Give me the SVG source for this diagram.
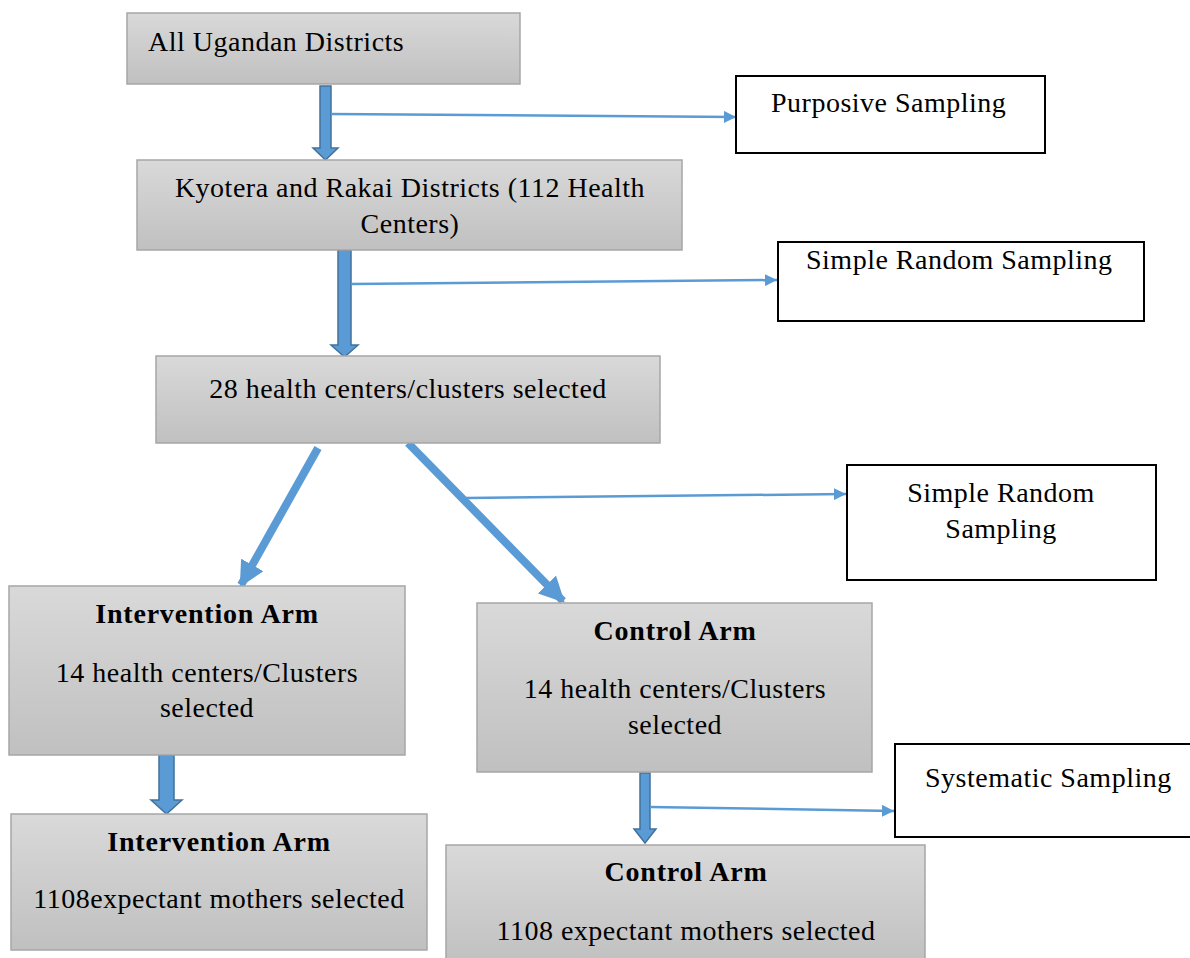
<svg xmlns="http://www.w3.org/2000/svg" width="1190" height="958" viewBox="0 0 1190 958">
<defs>
<linearGradient id="g" x1="0" y1="0" x2="0" y2="1">
<stop offset="0" stop-color="#d9d9d9"/>
<stop offset="1" stop-color="#c0c0c0"/>
</linearGradient>
<marker id="ahs" viewBox="0 0 10 10" refX="10" refY="5" markerWidth="12" markerHeight="12" markerUnits="userSpaceOnUse" orient="auto">
<path d="M0,0 L10,5 L0,10 z" fill="#5b9bd5"/>
</marker>
<marker id="ahd" viewBox="0 0 10 10" refX="9" refY="5" markerWidth="3.2" markerHeight="3.2" orient="auto">
<path d="M0,0 L10,5 L0,10 z" fill="#5b9bd5"/>
</marker>
</defs>
<style>
.gbox{fill:url(#g);stroke:#a6a6a6;stroke-width:1.5}
.wbox{fill:#fff;stroke:#000;stroke-width:2}
text{font-family:"Liberation Serif","Times New Roman",serif;font-size:28px;letter-spacing:0.5px;fill:#000}
.c{text-anchor:middle}
.b{font-weight:bold;letter-spacing:0.8px}
.blk{fill:#5b9bd5;stroke:#41719c;stroke-width:1.5}
.thin{stroke:#5b9bd5;stroke-width:2.5;fill:none}
.diag{stroke:#5b9bd5;stroke-width:8;fill:none}
</style>
<rect width="1190" height="958" fill="#fff"/>
<g id="connectors">
<path class="blk" d="M320,86 H331 V148 H338 L325.5,160 L313,148 H320 Z"/>
<line class="thin" x1="331" y1="114" x2="736" y2="117" marker-end="url(#ahs)"/>
<path class="blk" d="M338,250 H351 V345 H358 L344.5,357 L331,345 H338 Z"/>
<line class="thin" x1="351" y1="284" x2="777" y2="280" marker-end="url(#ahs)"/>
<line class="diag" x1="318" y1="448" x2="241" y2="585" marker-end="url(#ahd)"/>
<line class="diag" x1="408" y1="443" x2="563" y2="601" marker-end="url(#ahd)"/>
<line class="thin" x1="466" y1="498" x2="846" y2="494" marker-end="url(#ahs)"/>
<path class="blk" d="M159,755 H174 V800 H182 L166.5,814 L151,800 H159 Z"/>
<path class="blk" d="M640,773 H650 V829 H656 L645,843 L634,829 H640 Z"/>
<line class="thin" x1="650" y1="807" x2="894" y2="811" marker-end="url(#ahs)"/>
</g>
<g id="n1"><rect class="gbox" x="127" y="13" width="393" height="71"/><text x="148" y="51">All Ugandan Districts</text></g>
<g id="n2"><rect class="wbox" x="736" y="76" width="309" height="77"/><text x="771" y="112">Purposive Sampling</text></g>
<g id="n3"><rect class="gbox" x="137" y="160" width="545" height="90"/><text class="c" x="410" y="197">Kyotera and Rakai Districts (112 Health</text><text class="c" x="410" y="233">Centers)</text></g>
<g id="n4"><rect class="wbox" x="778" y="242" width="366" height="79"/><text x="806" y="269">Simple Random Sampling</text></g>
<g id="n5"><rect class="gbox" x="156" y="356" width="504" height="87"/><text class="c" x="408" y="398">28 health centers/clusters selected</text></g>
<g id="n6"><rect class="wbox" x="847" y="465" width="309" height="115"/><text class="c" x="1001" y="502">Simple Random</text><text class="c" x="1001" y="538">Sampling</text></g>
<g id="n7"><rect class="gbox" x="9" y="586" width="396" height="169"/><text class="c b" x="207" y="623">Intervention Arm</text><text class="c" x="207" y="682">14 health centers/Clusters</text><text class="c" x="207" y="717">selected</text></g>
<g id="n8"><rect class="gbox" x="477" y="603" width="395" height="169"/><text class="c b" x="675" y="640">Control Arm</text><text class="c" x="675" y="698">14 health centers/Clusters</text><text class="c" x="675" y="734">selected</text></g>
<g id="n9"><rect class="wbox" x="895" y="744" width="300" height="93"/><text x="925" y="787">Systematic Sampling</text></g>
<g id="n10"><rect class="gbox" x="11" y="814" width="416" height="136"/><text class="c b" x="219" y="851">Intervention Arm</text><text class="c" x="219" y="908">1108expectant mothers selected</text></g>
<g id="n11"><rect class="gbox" x="446" y="845" width="479" height="120"/><text class="c b" x="686" y="881">Control Arm</text><text class="c" x="686" y="940">1108 expectant mothers selected</text></g>
</svg>
